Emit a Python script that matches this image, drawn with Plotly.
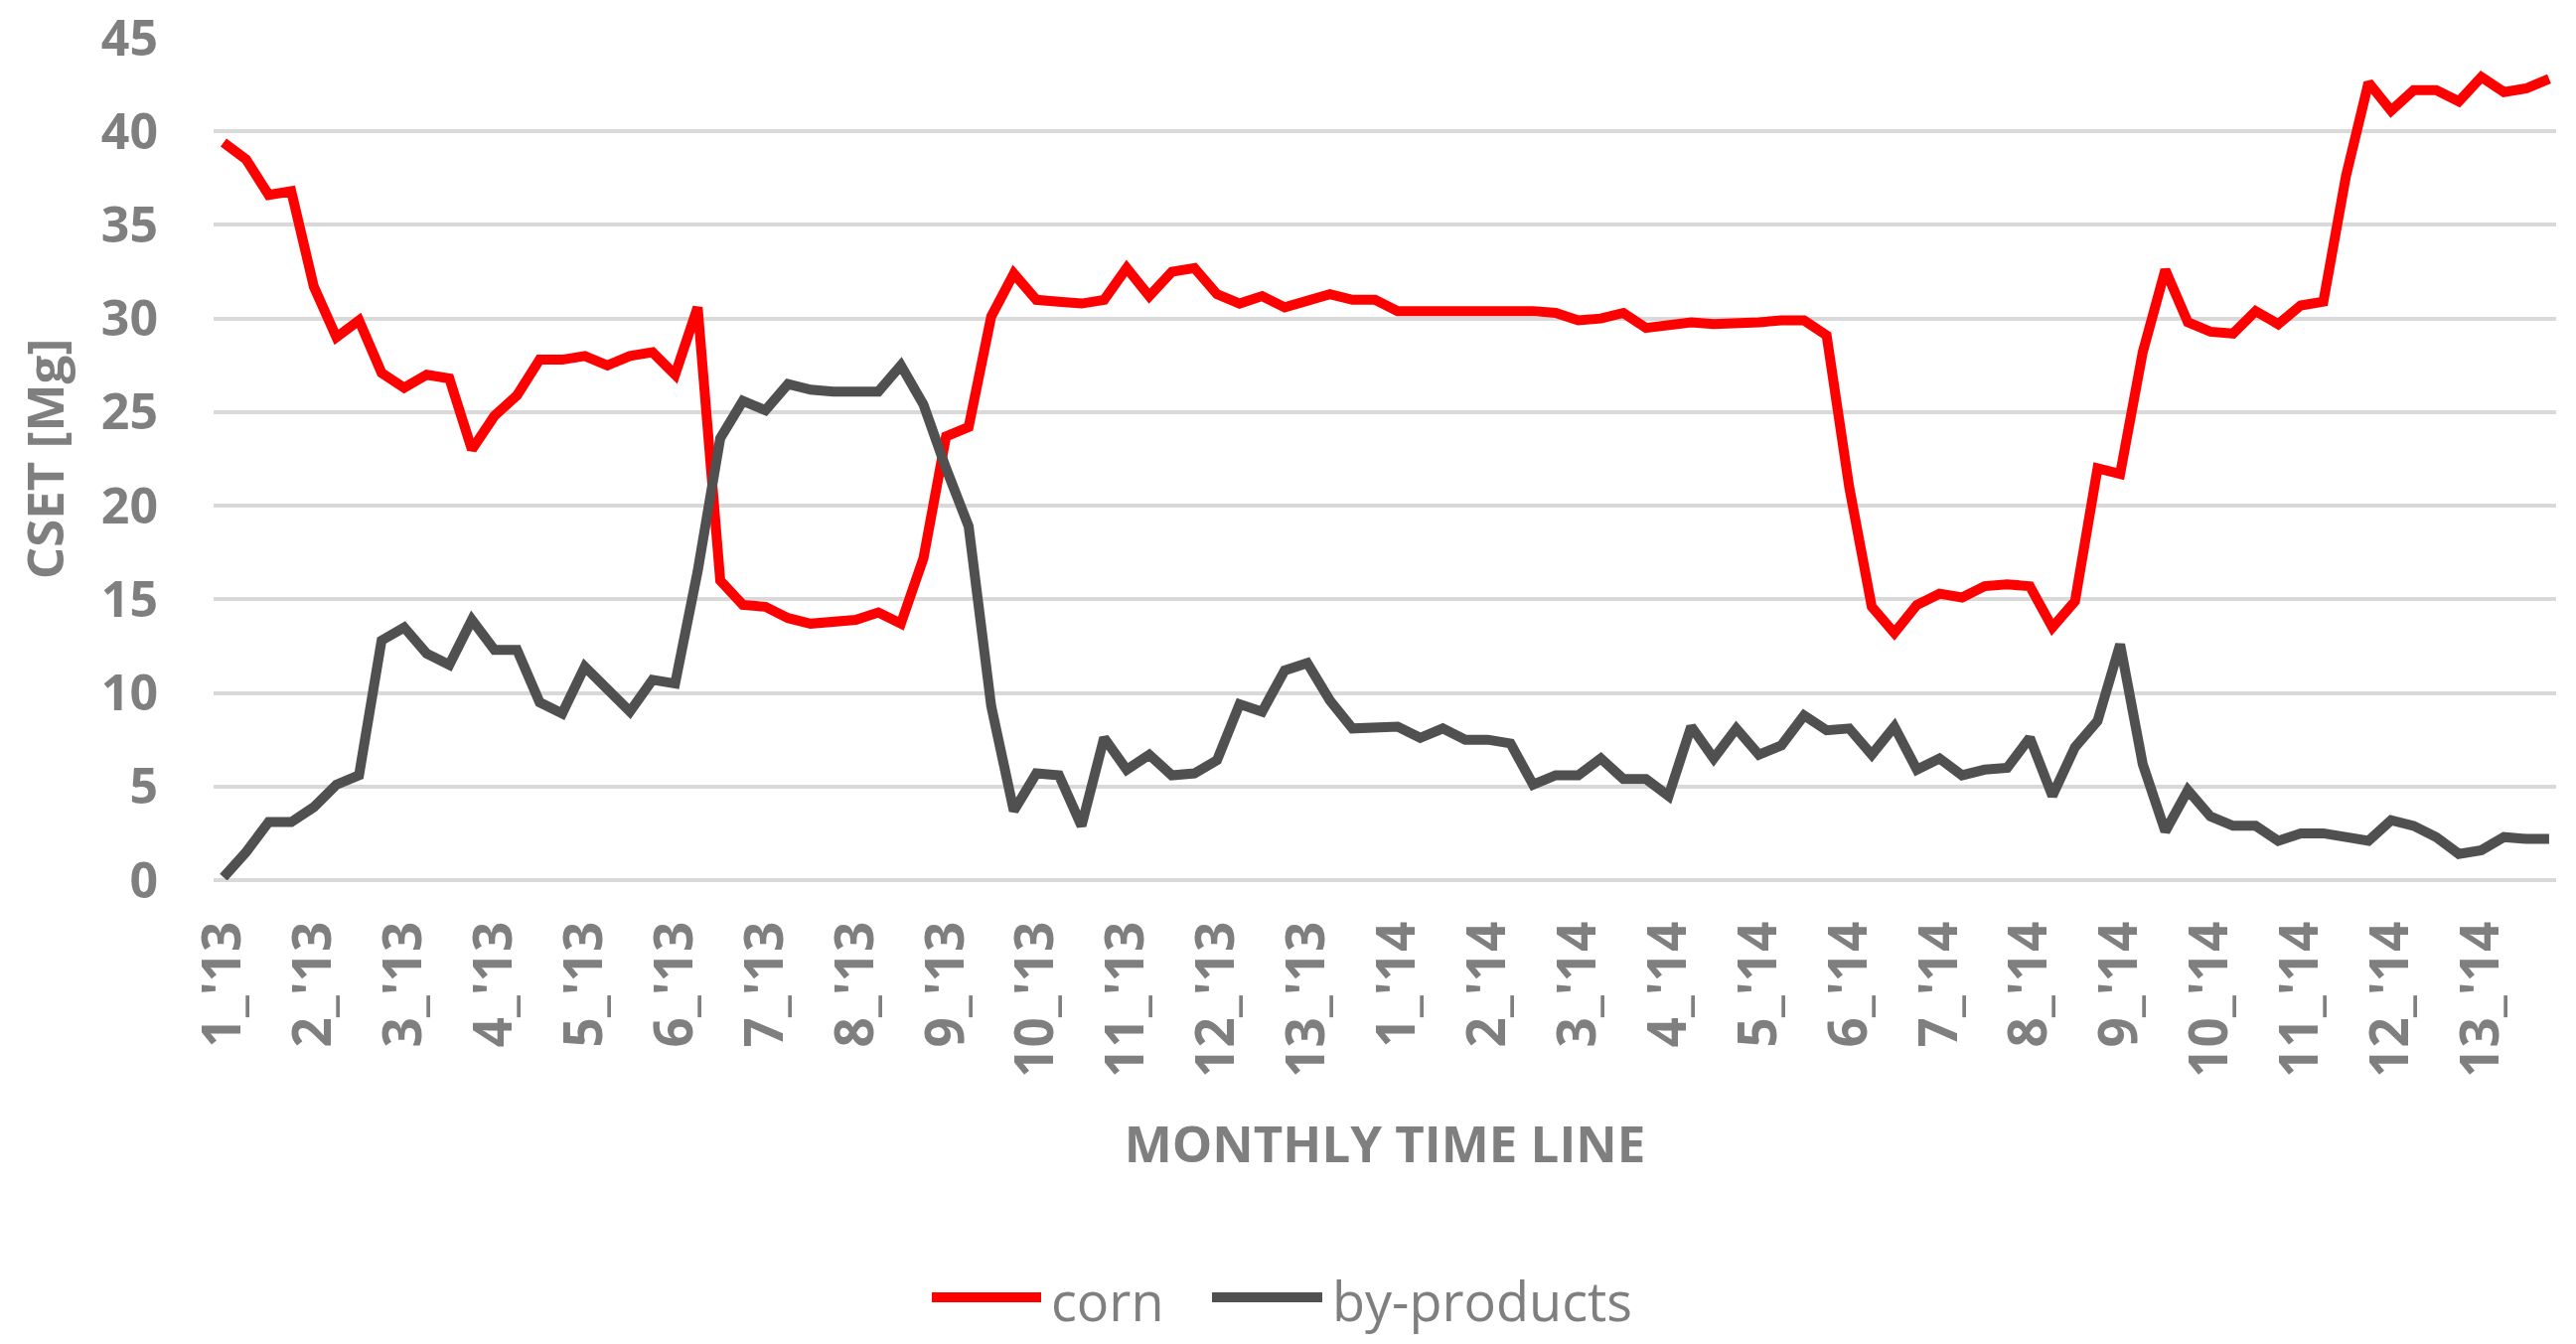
import plotly.graph_objects as go

month_labels = ["1_'13", "2_'13", "3_'13", "4_'13", "5_'13", "6_'13", "7_'13", "8_'13", "9_'13",
                "10_'13", "11_'13", "12_'13", "13_'13",
                "1_'14", "2_'14", "3_'14", "4_'14", "5_'14", "6_'14", "7_'14", "8_'14", "9_'14",
                "10_'14", "11_'14", "12_'14", "13_'14"]
weeks_per_month = 4

corn = [39.4, 38.5, 36.6, 36.8, 31.7, 29.0, 29.9, 27.1, 26.3, 27.0, 26.8, 23.0, 24.8, 25.9, 27.8, 27.8,
        28.0, 27.5, 28.0, 28.2, 27.0, 30.6, 16.0, 14.7, 14.6, 14.0, 13.7, 13.8, 13.9, 14.3, 13.7, 17.2,
        23.7, 24.2, 30.1, 32.4, 31.0, 30.9, 30.8, 31.0, 32.7, 31.2, 32.5, 32.7, 31.3, 30.8, 31.2, 30.6,
        30.9, 31.3, 31.0, 31.0, 30.4, 30.4, 30.4, 30.5, 30.5, 30.4, 30.4, 30.3, 29.9, 30.0, 30.3, 29.5,
        29.6, 29.8, 29.7, 29.7, 29.8, 29.9, 29.9, 29.1, 21.0, 14.6, 13.2, 14.7, 15.3, 15.1, 15.7, 15.8,
        15.7, 13.5, 14.9, 22.0, 21.7, 28.2, 32.6, 29.8, 29.3, 29.2, 30.4, 29.7, 30.7, 30.9, 37.6, 42.6,
        41.1, 42.2, 42.2, 41.6, 42.9, 42.1, 42.3, 42.8]

by_products = [0.15, 1.5, 3.1, 3.1, 3.9, 5.1, 5.6, 12.8, 13.5, 12.1, 11.5, 13.9, 12.3, 12.3, 9.5, 8.9,
               11.4, 10.2, 9.0, 10.7, 10.5, 16.5, 23.6, 25.6, 25.1, 26.5, 26.2, 26.1, 26.1, 26.1, 27.5, 25.4,
               22.0, 18.9, 9.3, 3.7, 5.7, 5.6, 2.9, 7.6, 5.9, 6.7, 5.6, 5.7, 6.4, 9.4, 9.0, 11.2,
               11.6, 9.6, 8.1, 8.1, 8.2, 7.6, 8.1, 7.5, 7.5, 7.3, 5.1, 5.6, 5.6, 6.5, 5.4, 5.4,
               4.5, 8.2, 6.5, 8.1, 6.7, 7.2, 8.8, 8.0, 8.1, 6.7, 8.2, 5.9, 6.5, 5.6, 5.9, 6.0,
               7.6, 4.5, 7.1, 8.5, 12.6, 6.2, 2.6, 4.8, 3.4, 2.9, 2.9, 2.1, 2.5, 2.5, 2.3, 2.1,
               3.2, 2.9, 2.3, 1.4, 1.6, 2.3, 2.2, 2.2]

series_names = ["corn", "by-products"]
series_colors = ["#FF0000", "#505050"]

weeks = list(range(len(corn)))
tick_positions = [k * weeks_per_month for k in range(len(month_labels))]

W, H = 2593, 1353
ML, MR, MT, MB = 215, 20, 38, 467
TEXT = "#7F7F7F"
FONT = "Open Sans"

fig = go.Figure()
for name, vals, col in zip(series_names, [corn, by_products], series_colors):
    fig.add_trace(go.Scatter(x=weeks, y=vals, mode="lines", name=name,
                             line=dict(color=col, width=10), showlegend=False))

fig.update_layout(
    width=W, height=H,
    margin=dict(l=ML, r=MR, t=MT, b=MB),
    paper_bgcolor="white", plot_bgcolor="white",
    font=dict(family=FONT, color=TEXT),
    xaxis=dict(range=[-0.44, len(corn) - 1 + 0.31], tickvals=tick_positions, ticktext=month_labels,
               tickangle=-90, showgrid=False, zeroline=False, showline=False, ticks="",
               ticklabelstandoff=30, ticklabeloverflow="allow",
               tickfont=dict(family=FONT, size=53, color=TEXT, weight="bold"),
               automargin=False,
               title=dict(text="MONTHLY TIME LINE", standoff=50,
                          font=dict(family=FONT, size=51, color=TEXT, weight="bold"))),
    yaxis=dict(range=[0, 45], dtick=5, showgrid=True, gridcolor="#D9D9D9", gridwidth=4,
               zeroline=True, zerolinecolor="#D9D9D9", zerolinewidth=4, showline=False, ticks="",
               ticklabelstandoff=55, ticklabeloverflow="allow",
               tickfont=dict(family=FONT, size=50, color=TEXT, weight="bold"),
               automargin=False,
               title=dict(text="CSET [Mg]", standoff=20,
                          font=dict(family=FONT, size=51, color=TEXT, weight="bold"))),
)

# legend (custom, centred below the axis title)
pw = W - ML - MR
ph = H - MT - MB
def px_x(p):
    return (p - ML) / pw
def px_y(p):
    return (H - MB - p) / ph

legend_line_y = 1306
legend_text_y = 1309
legend_items = [(938, 1048, 1056), (1220, 1331, 1339)]
for (x0, x1, tx), name, col in zip(legend_items, series_names, series_colors):
    fig.add_shape(type="line", xref="paper", yref="paper", x0=px_x(x0), x1=px_x(x1),
                  y0=px_y(legend_line_y), y1=px_y(legend_line_y), line=dict(color=col, width=10))
    fig.add_annotation(xref="paper", yref="paper", x=px_x(tx), y=px_y(legend_text_y), text=name,
                       showarrow=False, xanchor="left", yanchor="middle",
                       font=dict(family=FONT, size=54, color=TEXT))

fig.write_html("out.html", config={"displayModeBar": False},
               post_script="document.body.style.margin='0';")
